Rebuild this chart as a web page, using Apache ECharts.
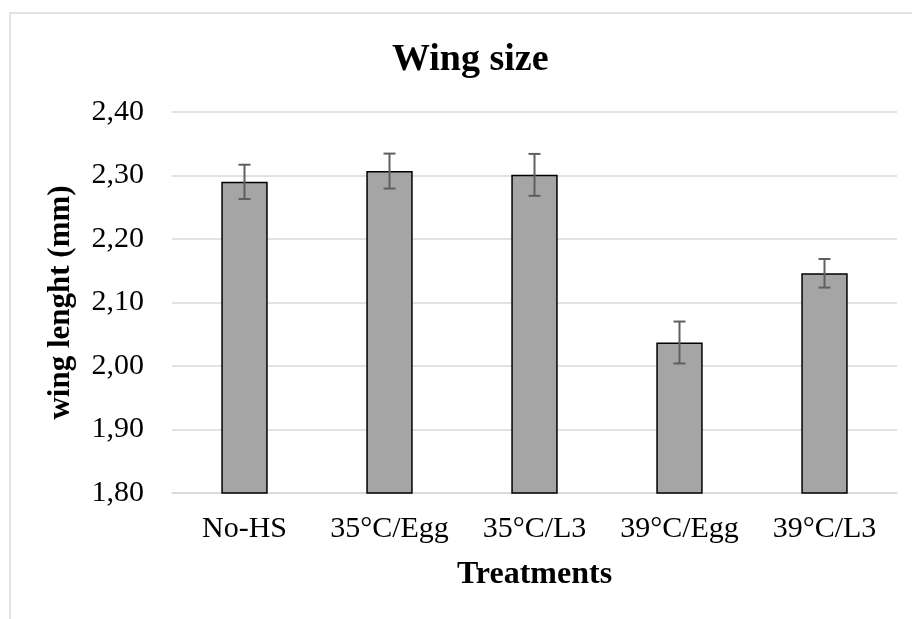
<!DOCTYPE html>
<html>
<head>
<meta charset="utf-8">
<title>Wing size</title>
<script src="https://cdn.jsdelivr.net/npm/echarts@6/dist/echarts.min.js"></script>
<style>
  html, body { margin: 0; padding: 0; background: #ffffff; }
  #chart { width: 912px; height: 619px; }
</style>
</head>
<body>
<div id="chart"></div>
<script>
// Treatments and mean wing length (mm) with standard error
const categories = ['No-HS', '35°C/Egg', '35°C/L3', '39°C/Egg', '39°C/L3'];
const meanLength = [2.290, 2.307, 2.301, 2.037, 2.146];
const stdError = [0.027, 0.0275, 0.033, 0.033, 0.0225];
const yTicks = [1.80, 1.90, 2.00, 2.10, 2.20, 2.30, 2.40];

const FONT = '"Liberation Serif", "Times New Roman", serif';

const errorData = categories.map((c, i) => [i, meanLength[i] - stdError[i], meanLength[i] + stdError[i]]);

const chart = echarts.init(document.getElementById('chart'), null, { renderer: 'canvas' });

chart.setOption({
  animation: false,
  backgroundColor: '#ffffff',
  title: {
    text: 'Wing size',
    left: 387,
    top: 36,
    textStyle: { fontFamily: FONT, fontSize: 38, fontWeight: 'bold', color: '#000000' }
  },
  graphic: [{
    type: 'rect',
    silent: true,
    shape: { x: 10, y: 13, width: 1000, height: 700 },
    style: { fill: 'none', stroke: '#D9D9D9', lineWidth: 1.5 }
  }],
  grid: { left: 172, right: 15, top: 112, height: 381, containLabel: false },
  xAxis: {
    type: 'category',
    data: categories,
    name: 'Treatments',
    nameLocation: 'middle',
    nameGap: 66,
    nameTextStyle: { fontFamily: FONT, fontSize: 32, fontWeight: 'bold', color: '#000000' },
    axisLine: { show: true, lineStyle: { color: '#D9D9D9', width: 1.5 } },
    axisTick: { show: false },
    axisLabel: { fontFamily: FONT, fontSize: 30, color: '#000000', margin: 21, interval: 0 }
  },
  yAxis: {
    type: 'value',
    min: yTicks[0],
    max: yTicks[yTicks.length - 1],
    interval: 0.1,
    name: 'wing lenght (mm)',
    nameLocation: 'middle',
    nameGap: 96,
    nameRotate: 90,
    nameTextStyle: { fontFamily: FONT, fontSize: 31, fontWeight: 'bold', color: '#000000' },
    axisLine: { show: false },
    axisTick: { show: false },
    splitLine: { show: true, lineStyle: { color: '#D9D9D9', width: 1.5 } },
    axisLabel: {
      fontFamily: FONT, fontSize: 30, color: '#000000', margin: 28,
      formatter: v => v.toFixed(2).replace('.', ',')
    }
  },
  series: [
    {
      type: 'bar',
      data: meanLength,
      barWidth: '32%',
      itemStyle: { color: '#A5A5A5', borderColor: '#000000', borderWidth: 1.5 }
    },
    {
      type: 'custom',
      data: errorData,
      z: 10,
      renderItem: function (params, api) {
        const x = api.value(0);
        const lo = api.coord([x, api.value(1)]);
        const hi = api.coord([x, api.value(2)]);
        const half = 6;
        const style = { stroke: '#5F5F5F', lineWidth: 2 };
        return {
          type: 'group',
          children: [
            { type: 'line', shape: { x1: hi[0], y1: hi[1], x2: lo[0], y2: lo[1] }, style: style },
            { type: 'line', shape: { x1: hi[0] - half, y1: hi[1], x2: hi[0] + half, y2: hi[1] }, style: style },
            { type: 'line', shape: { x1: lo[0] - half, y1: lo[1], x2: lo[0] + half, y2: lo[1] }, style: style }
          ]
        };
      }
    }
  ]
});
</script>
</body>
</html>
